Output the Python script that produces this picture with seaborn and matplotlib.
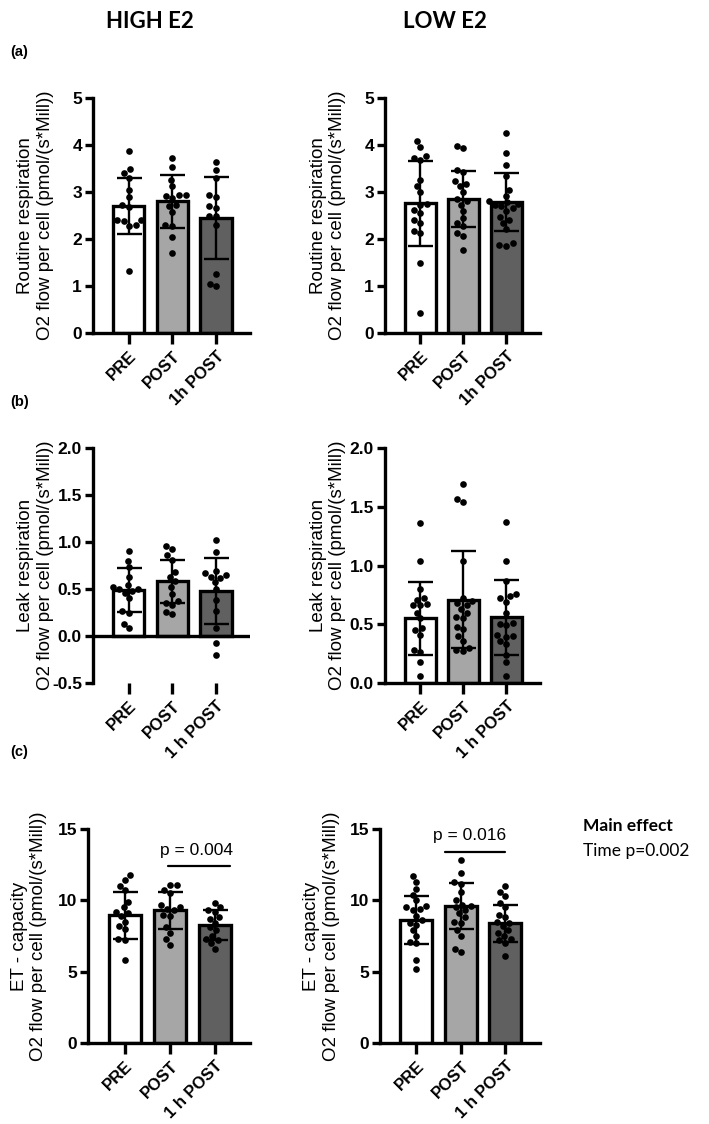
import numpy as np
import pandas as pd
import matplotlib
matplotlib.use("Agg")
import matplotlib.pyplot as plt
import seaborn as sns

# group labels
groups = ["PRE", "POST", "1h POST"]
groups_b = ["PRE", "POST", "1 h POST"]
bar_colors = ["#ffffff", "#a6a6a6", "#606060"]

# (a) routine respiration - individual values
routine_high = [
    [3.87, 3.48, 3.40, 3.30, 3.05, 2.90, 2.72, 2.68, 2.40, 2.40, 2.38, 2.30, 2.28, 1.31],
    [3.72, 3.53, 3.26, 3.12, 2.94, 2.94, 2.92, 2.88, 2.72, 2.70, 2.58, 2.30, 2.28, 2.05, 1.70],
    [3.63, 3.46, 3.30, 2.94, 2.90, 2.70, 2.65, 2.50, 2.48, 2.30, 1.26, 1.05, 0.99],
]
routine_low = [
    [4.08, 3.96, 3.77, 3.72, 3.68, 3.25, 3.12, 3.00, 2.75, 2.73, 2.62, 2.55, 2.40, 2.33, 2.17, 2.12, 1.50, 0.43],
    [3.97, 3.94, 3.47, 3.42, 3.23, 3.16, 3.12, 3.00, 2.85, 2.80, 2.73, 2.60, 2.45, 2.34, 2.27, 2.13, 2.06, 1.76],
    [4.25, 3.84, 3.58, 3.35, 3.05, 2.92, 2.80, 2.78, 2.75, 2.72, 2.70, 2.66, 2.60, 2.47, 2.40, 2.34, 2.22, 1.92, 1.88, 1.86],
]
routine_high_mean = [2.70, 2.80, 2.45]
routine_high_sd = [0.60, 0.56, 0.87]
routine_low_mean = [2.76, 2.85, 2.79]
routine_low_sd = [0.91, 0.60, 0.61]

# (b) leak respiration
leak_high = [
    [0.90, 0.80, 0.73, 0.63, 0.54, 0.52, 0.50, 0.50, 0.48, 0.46, 0.40, 0.27, 0.24, 0.13, 0.08],
    [0.96, 0.93, 0.86, 0.81, 0.68, 0.63, 0.58, 0.52, 0.45, 0.37, 0.35, 0.33, 0.26, 0.23],
    [1.02, 0.89, 0.69, 0.67, 0.65, 0.63, 0.62, 0.57, 0.50, 0.38, 0.27, 0.08, -0.07, -0.20],
]
leak_low = [
    [1.36, 1.04, 0.80, 0.72, 0.71, 0.67, 0.66, 0.66, 0.60, 0.55, 0.47, 0.45, 0.41, 0.28, 0.26, 0.18, 0.06],
    [1.69, 1.57, 1.54, 1.04, 0.72, 0.70, 0.68, 0.66, 0.63, 0.60, 0.56, 0.55, 0.48, 0.46, 0.40, 0.36, 0.30, 0.28, 0.27],
    [1.37, 1.04, 0.87, 0.76, 0.74, 0.72, 0.69, 0.60, 0.51, 0.50, 0.49, 0.41, 0.40, 0.39, 0.36, 0.33, 0.24, 0.18, 0.06],
]
leak_high_mean = [0.49, 0.58, 0.48]
leak_high_sd = [0.23, 0.23, 0.35]
leak_low_mean = [0.55, 0.71, 0.56]
leak_low_sd = [0.31, 0.41, 0.32]

# (c) ET capacity
et_high = [
    [11.75, 11.4, 11.0, 10.7, 9.9, 9.5, 9.2, 9.1, 8.9, 8.5, 8.2, 8.0, 7.3, 7.25, 5.85],
    [11.1, 11.05, 10.7, 10.5, 9.7, 9.5, 9.4, 9.3, 9.0, 8.9, 8.1, 7.7, 7.3, 6.9],
    [9.8, 9.5, 9.3, 9.2, 8.8, 8.7, 8.4, 8.1, 7.9, 7.5, 7.3, 7.2, 7.0, 6.6],
]
et_low = [
    [11.7, 11.3, 10.8, 10.4, 10.0, 9.6, 9.5, 9.4, 9.3, 8.9, 8.6, 8.4, 8.3, 7.9, 7.5, 7.1, 7.0, 5.8, 5.2],
    [12.8, 11.95, 11.3, 11.15, 10.6, 10.0, 9.7, 9.6, 9.5, 9.3, 9.1, 8.8, 8.5, 8.4, 7.9, 7.5, 6.6, 6.4],
    [11.0, 10.6, 10.3, 9.8, 9.5, 9.0, 8.8, 8.5, 8.4, 8.2, 7.9, 7.7, 7.5, 7.3, 7.2, 7.0, 6.1],
]
et_high_mean = [8.95, 9.30, 8.25]
et_high_sd = [1.65, 1.28, 1.05]
et_low_mean = [8.62, 9.58, 8.39]
et_low_sd = [1.66, 1.62, 1.28]

sns.set_theme(style="ticks", rc={
    "axes.edgecolor": "black", "text.color": "black", "axes.labelcolor": "black",
    "xtick.color": "black", "ytick.color": "black",
})
plt.rcParams["font.family"] = ["Liberation Sans", "DejaVu Sans"]

fig = plt.figure(figsize=(7.09, 11.24), dpi=100)
W, H = 709, 1124


def make_ax(x0, x1, y0, y1):
    return fig.add_axes([x0 / W, 1 - y1 / H, (x1 - x0) / W, (y1 - y0) / H])


def panel(ax, values, means, sds, labels, ylim, yticks, ylabel, tick_fmt, zero_line=False):
    df = pd.DataFrame({
        "group": [labels[i] for i, v in enumerate(values) for _ in v],
        "value": [x for v in values for x in v],
    })
    sns.barplot(x=labels, y=means, hue=labels, palette=bar_colors, order=labels,
                width=0.72, edgecolor="black", linewidth=2.4, legend=False, ax=ax, zorder=1)
    sns.swarmplot(data=df, x="group", y="value", order=labels, color="black",
                  size=4.8, ax=ax, zorder=3)
    ax.errorbar(range(3), means, yerr=sds, fmt="none", ecolor="black",
                elinewidth=1.7, capsize=9, capthick=1.7, zorder=4)
    ax.set_ylim(*ylim)
    ax.set_yticks(yticks)
    ax.set_yticklabels([tick_fmt.format(t) for t in yticks], fontweight="bold", fontsize=12.5)
    ax.set_xlim(-0.82, 2.78)
    ax.set_xticks(range(3))
    ax.set_xticklabels(labels, rotation=45, ha="right", rotation_mode="anchor",
                       fontweight="bold", fontsize=12)
    ax.set_xlabel("")
    ax.set_ylabel(ylabel, fontsize=13.5, linespacing=1.2)
    ax.yaxis.set_label_coords(-0.25, 0.5)
    sns.despine(ax=ax)
    for s in ["left", "bottom"]:
        ax.spines[s].set_linewidth(2.4)
    ax.tick_params(axis="both", width=2.4, length=6, color="black", pad=2)
    ax.tick_params(axis="x", length=8, pad=3)
    if zero_line:
        ax.spines["bottom"].set_visible(False)
        ax.axhline(0, color="black", lw=2.4, zorder=2)


lab_a = "Routine respiration\nO2 flow per cell (pmol/(s*Mill))"
lab_b = "Leak respiration\nO2 flow per cell (pmol/(s*Mill))"
lab_c = "ET - capacity\nO2 flow per cell (pmol/(s*Mill))"

ax1 = make_ax(93, 250, 98, 333)
panel(ax1, routine_high, routine_high_mean, routine_high_sd, groups, (0, 5), [0, 1, 2, 3, 4, 5], lab_a, "{:g}")
ax2 = make_ax(385, 540, 98, 333)
panel(ax2, routine_low, routine_low_mean, routine_low_sd, groups, (0, 5), [0, 1, 2, 3, 4, 5], lab_a, "{:g}")

ax3 = make_ax(93, 250, 448, 683)
panel(ax3, leak_high, leak_high_mean, leak_high_sd, groups_b, (-0.5, 2.0),
      [-0.5, 0.0, 0.5, 1.0, 1.5, 2.0], lab_b, "{:.1f}", zero_line=True)
ax4 = make_ax(385, 540, 448, 683)
panel(ax4, leak_low, leak_low_mean, leak_low_sd, groups_b, (0, 2.0),
      [0.0, 0.5, 1.0, 1.5, 2.0], lab_b, "{:.1f}")

ax5 = make_ax(88, 250, 829, 1043)
panel(ax5, et_high, et_high_mean, et_high_sd, groups_b, (0, 15), [0, 5, 10, 15], lab_c, "{:g}")
ax6 = make_ax(380, 540, 829, 1043)
panel(ax6, et_low, et_low_mean, et_low_sd, groups_b, (0, 15), [0, 5, 10, 15], lab_c, "{:g}")

# significance bars
ax5.plot([0.96, 2.34], [12.4, 12.4], color="black", lw=1.6)
ax5.text(1.6, 13.0, "p = 0.004", ha="center", va="bottom", fontsize=12.5)
ax6.plot([0.64, 2.0], [13.4, 13.4], color="black", lw=1.6)
ax6.text(1.2, 14.0, "p = 0.016", ha="center", va="bottom", fontsize=12.5)

# headers and panel letters
fig.text(150 / W, 1 - 22 / H, "HIGH E2", ha="center", va="center", fontsize=16,
         fontweight="bold", family=["Lato", "DejaVu Sans"])
fig.text(445 / W, 1 - 22 / H, "LOW E2", ha="center", va="center", fontsize=16,
         fontweight="bold", family=["Lato", "DejaVu Sans"])
for letter, y in [("(a)", 52), ("(b)", 402), ("(c)", 752)]:
    fig.text(10 / W, 1 - y / H, letter, ha="left", va="center", fontsize=10.5, fontweight="bold")

fig.text(583 / W, 1 - 826 / H, "Main effect", ha="left", va="center", fontsize=12.5,
         fontweight="bold", family=["Lato", "DejaVu Sans"])
fig.text(583 / W, 1 - 851 / H, "Time p=0.002", ha="left", va="center", fontsize=12.5,
         family=["Lato", "DejaVu Sans"])

fig.savefig("out.png", dpi=100, facecolor="white")
